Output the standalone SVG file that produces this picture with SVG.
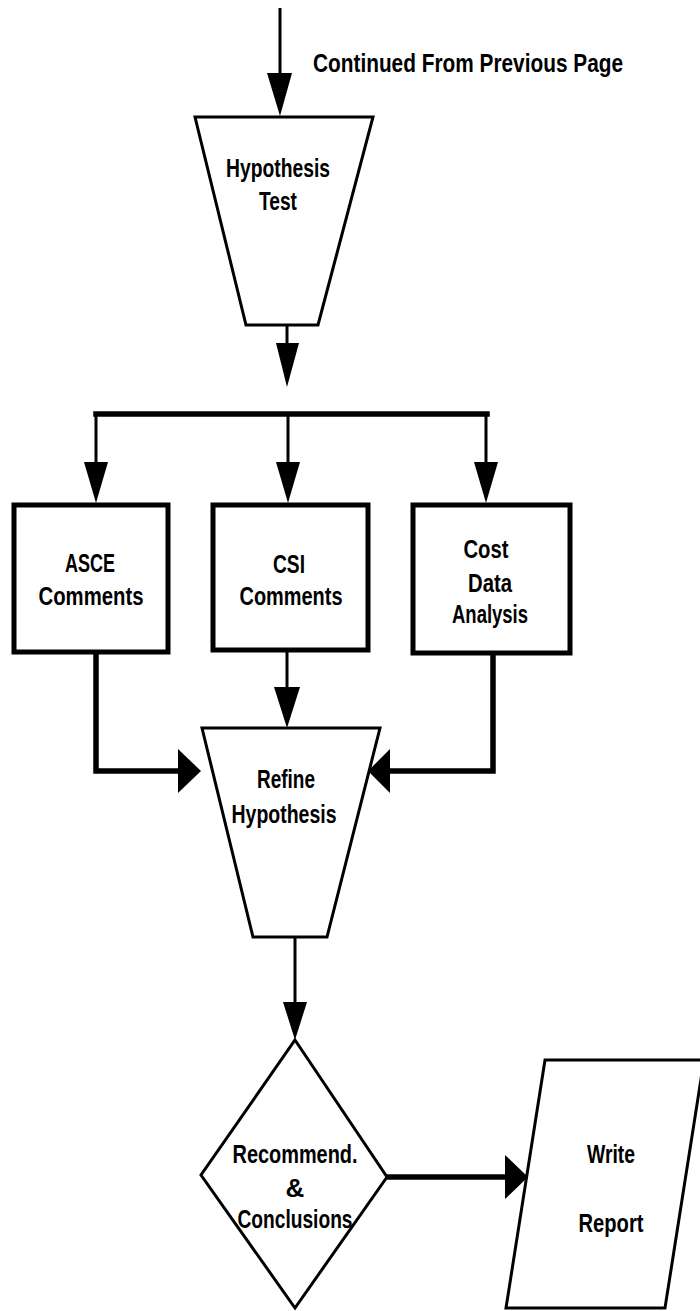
<svg xmlns="http://www.w3.org/2000/svg" width="700" height="1311" viewBox="0 0 700 1311">
<style>
.shape{fill:#fff;stroke:#000;stroke-width:3;stroke-linejoin:miter}
.box{fill:#fff;stroke:#000;stroke-width:5}
.thin{fill:none;stroke:#000;stroke-width:3}
.thick{fill:none;stroke:#000;stroke-width:5.5}
.head{fill:#000;stroke:none}
text{font-family:"Liberation Sans",Arial,sans-serif;font-size:26px;font-weight:bold;fill:#000;text-anchor:middle}
text.left{text-anchor:start}
</style>
<rect width="700" height="1311" fill="#fff"/>
<g id="connectors">
  <line class="thin" x1="280" y1="8" x2="280" y2="76"/>
  <polygon class="head" points="267,73 292,73 280,116"/>
  <line class="thin" x1="287" y1="325" x2="287" y2="346"/>
  <polygon class="head" points="276,343 299,343 287,387"/>
  <path class="thick" d="M96,414 H487" stroke-linecap="square"/>
  <path class="thin" d="M96,414 V464 M288,414 V464 M486,414 V464"/>
  <polygon class="head" points="84,462 108,462 96,503"/>
  <polygon class="head" points="276,462 300,462 288,503"/>
  <polygon class="head" points="474,462 498,462 486,503"/>
  <path class="thick" d="M96,652 V771 H180"/>
  <polygon class="head" points="178,749 178,793 201,771"/>
  <line class="thin" x1="287" y1="650" x2="287" y2="690"/>
  <polygon class="head" points="274,687 300,687 287,728"/>
  <path class="thick" d="M493,653 V771 H388"/>
  <polygon class="head" points="390,749 390,793 368,771"/>
  <line class="thin" x1="295" y1="937" x2="295" y2="1005"/>
  <polygon class="head" points="283,1002 307,1002 295,1040"/>
  <line class="thick" x1="387" y1="1177" x2="507" y2="1177" stroke-width="6"/>
  <polygon class="head" points="505,1155 505,1199 528,1177"/>
</g>
<g id="label-continued">
  <text class="left" x="313" y="72" textLength="310" lengthAdjust="spacingAndGlyphs">Continued From Previous Page</text>
</g>
<g id="hypothesis-test">
  <polygon class="shape" points="195,117 373,117 318,325 246,325"/>
  <text x="278" y="177" textLength="104" lengthAdjust="spacingAndGlyphs">Hypothesis</text>
  <text x="278" y="210" textLength="38" lengthAdjust="spacingAndGlyphs">Test</text>
</g>
<g id="asce-comments">
  <rect class="box" x="14" y="505" width="154" height="147"/>
  <text x="90" y="572" textLength="50" lengthAdjust="spacingAndGlyphs">ASCE</text>
  <text x="91" y="605" textLength="105" lengthAdjust="spacingAndGlyphs">Comments</text>
</g>
<g id="csi-comments">
  <rect class="box" x="213" y="505" width="155" height="145"/>
  <text x="289" y="573" textLength="32" lengthAdjust="spacingAndGlyphs">CSI</text>
  <text x="291" y="605" textLength="103" lengthAdjust="spacingAndGlyphs">Comments</text>
</g>
<g id="cost-data-analysis">
  <rect class="box" x="413" y="505" width="157" height="148"/>
  <text x="486" y="558" textLength="45" lengthAdjust="spacingAndGlyphs">Cost</text>
  <text x="490" y="592" textLength="44" lengthAdjust="spacingAndGlyphs">Data</text>
  <text x="490" y="623" textLength="76" lengthAdjust="spacingAndGlyphs">Analysis</text>
</g>
<g id="refine-hypothesis">
  <polygon class="shape" points="202,728 380,728 327,937 253,937"/>
  <text x="286" y="788" textLength="58" lengthAdjust="spacingAndGlyphs">Refine</text>
  <text x="284" y="823" textLength="105" lengthAdjust="spacingAndGlyphs">Hypothesis</text>
</g>
<g id="recommend-conclusions">
  <polygon class="shape" points="295,1040 387,1177 295,1308 201,1175"/>
  <text x="295" y="1163" textLength="125" lengthAdjust="spacingAndGlyphs">Recommend.</text>
  <text x="295" y="1197">&amp;</text>
  <text x="295" y="1228" textLength="115" lengthAdjust="spacingAndGlyphs">Conclusions</text>
</g>
<g id="write-report">
  <polygon class="shape" points="545,1060 704,1060 665,1308 506,1308"/>
  <text x="611" y="1163" textLength="48" lengthAdjust="spacingAndGlyphs">Write</text>
  <text x="611" y="1232" textLength="65" lengthAdjust="spacingAndGlyphs">Report</text>
</g>
</svg>
